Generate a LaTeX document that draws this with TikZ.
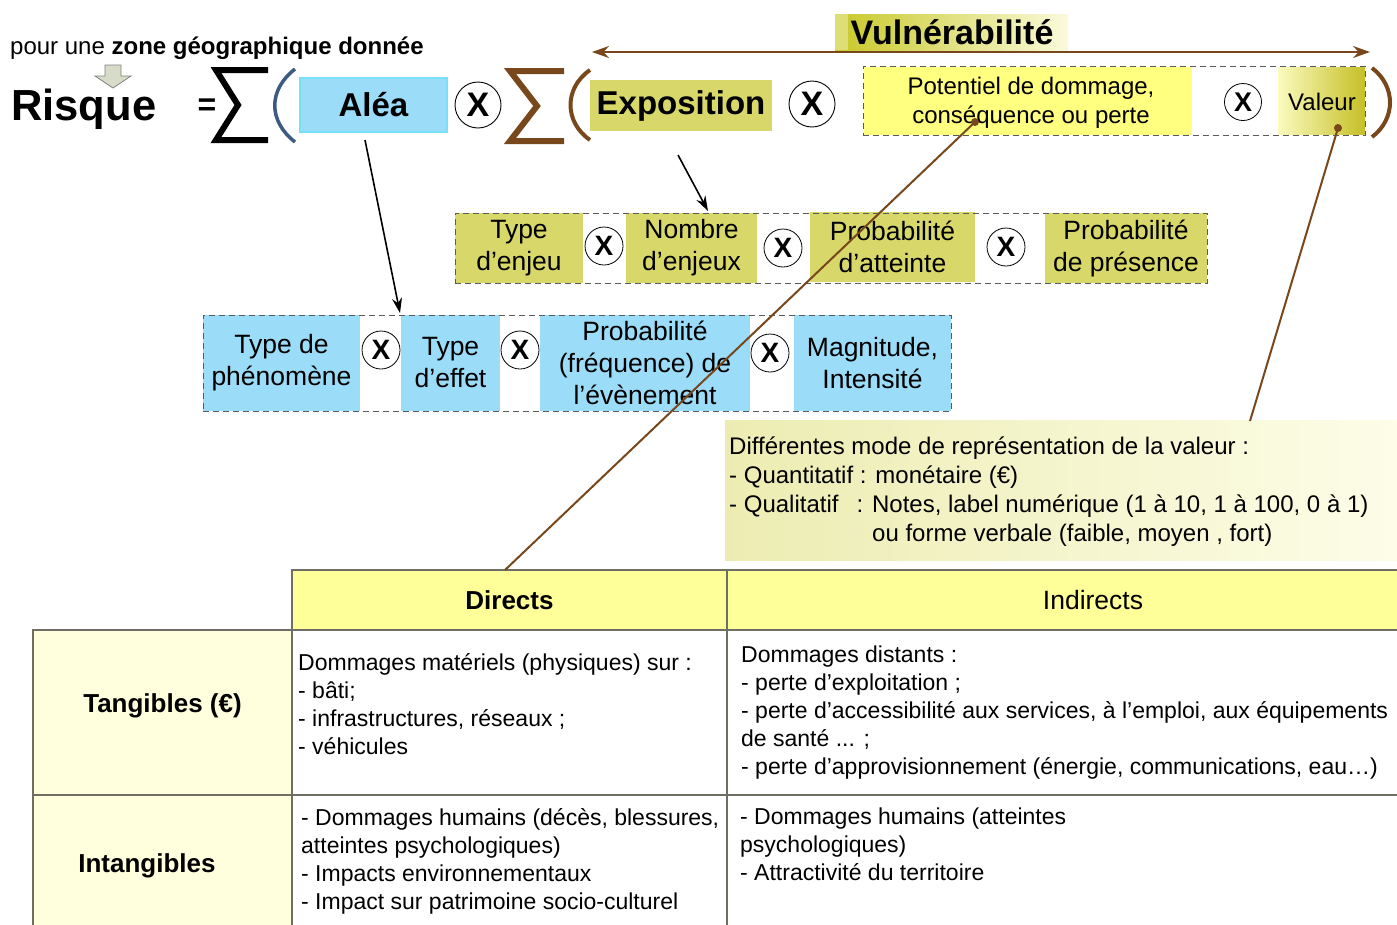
\documentclass[tikz,border=0pt]{standalone}
\usepackage{fontspec}
\setmainfont{Liberation Sans}
\usetikzlibrary{arrows.meta,shapes.geometric}
\definecolor{brn}{RGB}{120,72,28}
\definecolor{ablue}{RGB}{155,220,248}
\definecolor{aborder}{RGB}{120,225,245}
\definecolor{olv}{RGB}{216,216,106}
\definecolor{yel}{RGB}{255,255,128}
\definecolor{hdr}{RGB}{255,255,153}
\definecolor{lbl}{RGB}{255,255,221}
\definecolor{dkolv}{RGB}{198,192,40}
\definecolor{pblue}{RGB}{60,90,130}
\definecolor{tgrid}{RGB}{110,110,100}
\definecolor{dashgray}{RGB}{90,90,90}
\definecolor{arrowfill}{RGB}{215,220,200}
\definecolor{valleft}{RGB}{250,250,190}
\definecolor{vuA}{RGB}{200,200,40}
\definecolor{vuB}{RGB}{215,215,80}
\definecolor{vuC}{RGB}{250,250,220}
\definecolor{vuS}{RGB}{222,222,120}
\definecolor{boxL}{RGB}{236,236,178}
\definecolor{boxR}{RGB}{253,253,232}
\newcommand{\fsz}[2]{\fontsize{#1}{#2}\selectfont}
\tikzset{
  xbig/.style={circle,draw=black,line width=0.9pt,fill=white,inner sep=0pt,minimum size=46pt,font=\bfseries\fsz{34}{34}},
  xsm/.style={circle,draw=black,line width=0.8pt,fill=white,inner sep=0pt,minimum size=38pt,font=\bfseries\fsz{28}{28}},
  cell/.style={rectangle,inner sep=0pt,align=center,font=\fsz{26.5}{32}},
  rowtwo/.style={cell,fill=olv,minimum height=70pt},
  rowthree/.style={cell,fill=ablue,minimum height=96pt},
  dashbox/.style={rectangle,draw=dashgray,dash pattern=on 6pt off 4pt,line width=0.9pt,inner sep=0pt},
  blkarrow/.style={line width=1.6pt,-{Stealth[length=15pt,width=10pt]}},
  brnline/.style={draw=brn,line width=2pt},
  tcell/.style={rectangle,draw=tgrid,line width=1.2pt,inner sep=0pt,outer sep=0pt},
  ttext/.style={anchor=north west,inner sep=0pt,align=left,font=\fsz{23}{28}},
  sigma/.style={line width=6pt,line join=miter,line cap=butt},
}
\begin{document}
\begin{tikzpicture}[x=1pt,y=-1pt]
\useasboundingbox (0,0) rectangle (1397,924);
\fill[white] (0,0) rectangle (1397,924);

% ---- top line
\node[anchor=base west,inner sep=0pt,font=\fsz{24}{28}] (zone) at (10,54) {pour une \textbf{zone géographique donnée}};
\draw[fill=arrowfill,draw=gray,line width=0.8pt]
  (105,65)--(121,65)--(121,76)--(131,76)--(113,88)--(95,76)--(105,76)--cycle;
\node[anchor=base west,inner sep=0pt,font=\bfseries\fsz{43.5}{43.5}] (risque) at (11,120) {Risque};
\node[inner sep=0pt,font=\bfseries\fsz{32}{32}] (eq) at (207,107) {=};
\draw[sigma,black] (268,70)--(216,70)--(238,105)--(216,140)--(268,140);
\draw[pblue,line width=3.5pt] (295,69) .. controls (268,90) and (268,121) .. (295,142);
\node[rectangle,fill=ablue,draw=aborder,line width=1.5pt,minimum width=147pt,minimum height=54pt,inner sep=0pt,font=\bfseries\fsz{33}{33}] (alea) at (373.5,105) {Aléa};
\node[xbig] (x1) at (478,105) {X};
\draw[sigma,brn] (564,71)--(510,71)--(537,106)--(510,141)--(564,141);
\draw[brn,line width=4pt] (590,70) .. controls (564,88) and (564,122) .. (590,140);
\node[rectangle,fill=olv,minimum width=182pt,minimum height=51pt,inner sep=0pt,font=\bfseries\fsz{33}{33}] (expo) at (681,105.5) {Exposition};
\node[xbig] (x2) at (812,104) {X};

% Vulnerabilite box
\fill[yel] (864,67) rectangle (1192,134.5);
\shade[left color=valleft,right color=dkolv] (1278,67) rectangle (1364.5,134.5);
\node[dashbox,minimum width=502pt,minimum height=69pt] (vbox) at (1114,100.5) {};
\node[inner sep=0pt,align=center,font=\fsz{24}{29}] (pot) at (1031,102.5) {Potentiel de dommage,\\conséquence ou perte};
\node[xsm,minimum size=37pt,font=\bfseries\fsz{27}{27}] (x3) at (1243,102) {X};
\node[inner sep=0pt,font=\fsz{24}{24}] (valeur) at (1322,102) {Valeur};
\draw[brn,line width=4pt] (1372,68) .. controls (1396,86) and (1396,119) .. (1372,137);

% Vulnerabilite title and arrow
\shade[left color=vuA,middle color=vuB,right color=vuC] (835,14) rectangle (1068,50);
\fill[vuS] (835,14) rectangle (848,50);
\node[inner sep=0pt,font=\bfseries\fsz{34}{34}] (vuln) at (952,32) {Vulnérabilité};
\coordinate (vl) at (592,52);
\coordinate (vr) at (1370,52);
\draw[brn,line width=2pt,{Stealth[length=17pt,width=12pt]}-{Stealth[length=17pt,width=12pt]}] (vl) -- (vr);

% ---- row 2 (exposition)
\node[rowtwo,minimum width=128pt] (enj1) at (519,248) {Type\\d’enjeu};
\node[xsm] (x4) at (604,246) {X};
\node[rowtwo,minimum width=131pt] (enj2) at (691.5,248) {Nombre\\d’enjeux};
\node[xsm] (x5) at (783,248) {X};
\node[rowtwo,minimum width=165pt] (enj3) at (892.5,247) {Probabilité\\d’atteinte};
\node[xsm] (x6) at (1006,247) {X};
\node[rowtwo,minimum width=162pt] (enj4) at (1126,248) {Probabilité\\de présence};
\node[dashbox,minimum width=752pt,minimum height=70pt] (row2) at (831,248) {};

% ---- row 3 (alea)
\node[rowthree,minimum width=157pt] (al1) at (281.5,363) {Type de\\phénomène};
\node[xsm] (x7) at (381,350) {X};
\node[rowthree,minimum width=99pt] (al2) at (450.5,363) {Type\\d’effet};
\node[xsm] (x8) at (520,350) {X};
\node[rowthree,minimum width=210pt] (al3) at (645,363) {Probabilité\\(fréquence) de\\l’évènement};
\node[xsm] (x9) at (770,353) {X};
\node[rowthree,minimum width=157pt] (al4) at (872.5,363) {Magnitude,\\Intensité};
\node[dashbox,minimum width=748pt,minimum height=96pt] (row3) at (577,363) {};

% black arrows
\coordinate (a1) at (365,140);
\coordinate (a2) at (400,313);
\draw[blkarrow] (a1) -- (a2);
\coordinate (e1) at (678,155);
\coordinate (e2) at (708,211);
\draw[blkarrow] (e1) -- (e2);

% ---- value text box
\shade[left color=boxL,right color=boxR] (725,420) rectangle (1397,560);
\node[anchor=north west,inner sep=0pt,align=left,font=\fsz{24}{29}] (valtxt) at (729,437)
 {Différentes mode de représentation de la valeur :\\
  - Quantitatif : monétaire (€)\\
  - Qualitatif\hspace*{18pt}: Notes, label numérique (1 à 10, 1 à 100, 0 à 1)\\
  \hspace*{143pt}ou forme verbale (faible, moyen , fort)};
\coordinate (valtop) at (1250,421);

% ---- table
\node[tcell,fill=hdr,minimum width=435pt,minimum height=60pt,font=\bfseries\fsz{26}{26}] (directs) at (509.5,600) {Directs};
\node[tcell,fill=hdr,minimum width=732pt,minimum height=60pt,font=\fsz{26.5}{26.5}] (indirects) at (1093,600) {Indirects};
\node[tcell,fill=lbl,minimum width=259pt,minimum height=165pt] (tang) at (162.5,712.5) {};
\node[tcell,fill=lbl,minimum width=259pt,minimum height=145pt] (intang) at (162.5,867.5) {};
\node[inner sep=0pt,font=\bfseries\fsz{26}{26}] (tanglbl) at (162.5,706) {Tangibles (€)};
\node[inner sep=0pt,font=\bfseries\fsz{26}{26}] (intanglbl) at (147,866) {Intangibles};
\node[tcell,fill=white,minimum width=435pt,minimum height=165pt] (dt) at (509.5,712.5) {};
\node[tcell,fill=white,minimum width=732pt,minimum height=165pt] (it) at (1093,712.5) {};
\node[tcell,fill=white,minimum width=435pt,minimum height=145pt] (di) at (509.5,867.5) {};
\node[tcell,fill=white,minimum width=732pt,minimum height=145pt] (ii) at (1093,867.5) {};
\node[ttext] (dttxt) at (298,653) {Dommages matériels (physiques) sur :\\- bâti;\\- infrastructures, réseaux ;\\- véhicules};
\node[ttext] (ittxt) at (741,646) {Dommages distants :\\- perte d’exploitation ;\\- perte d’accessibilité aux services, à l’emploi, aux équipements\\de santé ... ;\\- perte d’approvisionnement (énergie, communications, eau…)};
\node[ttext] (ditxt) at (301,808) {- Dommages humains (décès, blessures,\\atteintes psychologiques)\\- Impacts environnementaux\\- Impact sur patrimoine socio-culturel};
\node[ttext] (iitxt) at (740,808) {- Dommages humains (atteintes\\psychologiques)\\- Attractivité du territoire};

% ---- brown leader lines
\coordinate (pdot) at (975,122);
\coordinate (vdot) at (1338,128);
\coordinate (dtop) at (505,570);
\draw[brnline] (pdot) -- (dtop);
\draw[brnline] (vdot) -- (valtop);
\fill[brn] (pdot) circle (4pt);
\fill[brn] (vdot) circle (4pt);
\end{tikzpicture}
\end{document}
